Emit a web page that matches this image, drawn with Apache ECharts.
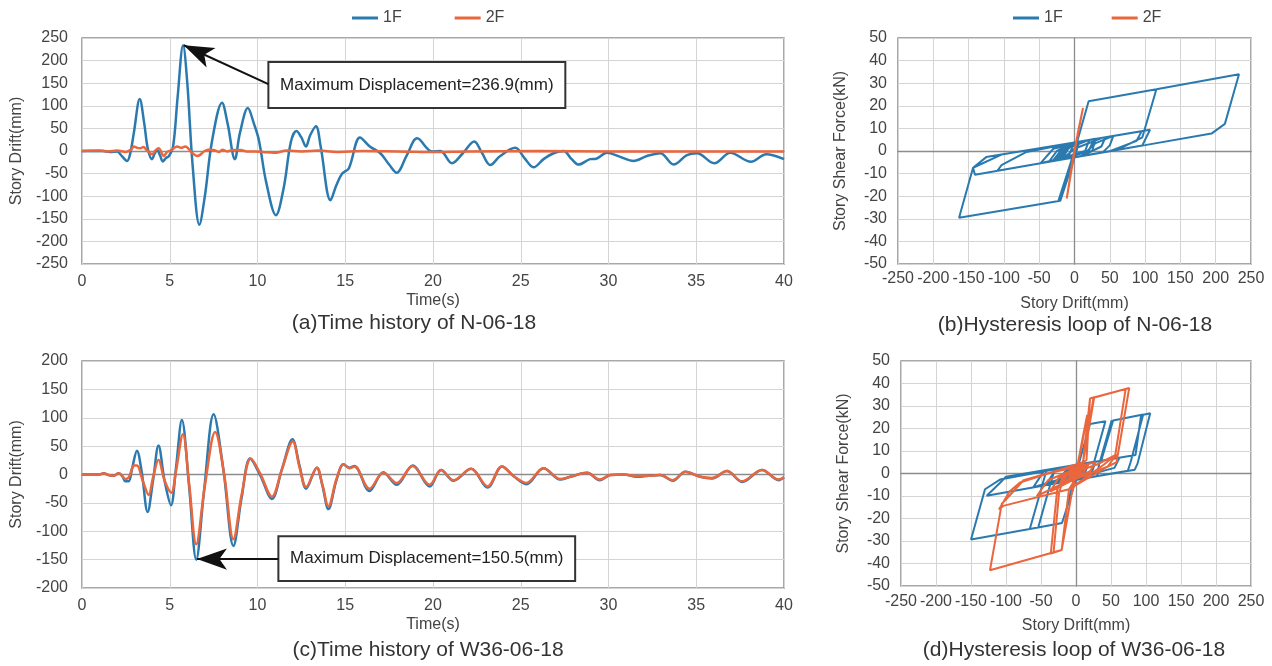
<!DOCTYPE html>
<html>
<head>
<meta charset="utf-8">
<title>Story drift time history and hysteresis loops</title>
<script src="https://cdn.jsdelivr.net/npm/echarts@6/dist/echarts.min.js"></script>
<style>
html, body { margin: 0; padding: 0; background: #fff; }
#chart { width: 1272px; height: 666px; }
</style>
</head>
<body>
<div id="chart"></div>
<script>
// values ([time s, drift mm] and [drift mm, shear kN])
const floors = ['1F', '2F'];

const histN1F = [[0,0],[1.2,0],[1.6,-2],[2.0,-1],[2.2,-8],[2.57,-22],[2.75,-5],[2.95,39],[3.29,115],[3.55,60],[3.75,5],[3.99,-18],[4.15,-5],[4.28,2],[4.45,-10],[4.6,-23],[4.8,-15],[4.94,-12],[5.19,10],[5.45,120],[5.76,234],[6.0,150],[6.3,-30],[6.69,-163],[7.0,-100],[7.4,20],[7.98,107],[8.3,60],[8.71,-18],[9.0,40],[9.45,95],[9.8,60],[10.08,24],[10.5,-70],[11.05,-142],[11.5,-80],[11.9,20],[12.22,44],[12.5,30],[12.76,10],[13.0,35],[13.33,55],[13.6,10],[14.16,-109],[14.5,-75],[14.83,-50],[15.21,-38],[15.84,30],[16.4,10],[17.0,-5],[17.5,-30],[17.93,-48],[18.5,-10],[19.1,28],[19.94,-1],[20.42,0],[21.08,-27],[21.7,-5],[22.35,21],[22.8,-5],[23.26,-31],[23.83,-11],[24.69,7],[25.2,-15],[25.73,-36],[26.3,-18],[26.87,-5],[27.44,0],[27.9,-18],[28.3,-30],[28.96,-18],[29.3,-17],[29.91,-4],[30.67,-13],[31.43,-22],[32.19,-11],[32.95,-5],[33.71,-30],[34.47,-9],[35.04,-5],[36.03,-27],[36.94,-4],[38.12,-24],[38.99,-7],[40,-18]];
const histN2F = [[0,0],[1.0,1],[1.5,-1],[2.0,1],[2.5,-2],[2.8,3],[2.95,10],[3.15,7],[3.33,6],[3.5,9],[3.7,1],[3.99,-7],[4.2,2],[4.37,6],[4.66,-11],[4.85,-2],[5.04,1],[5.42,10],[5.65,7],[5.89,10],[6.27,-4],[6.56,-11],[6.75,-8],[6.94,-1],[7.2,3],[7.5,2],[7.8,-2],[8.0,3],[8.27,-1],[8.6,2],[9.03,2],[9.4,-1],[9.79,-1],[10.3,-2],[10.93,-4],[11.69,1],[12.5,-1],[13.5,1],[14.5,-2],[16,0],[18,-1],[20,-2],[22,-1],[26,0],[30,-1],[35,-1],[40,-1]];
const histW1F = [[0,0],[1.0,0],[1.23,2],[1.5,-1],[1.8,-2],[2.09,2],[2.3,-3],[2.47,-12],[2.66,-12],[2.85,10],[3.13,42],[3.4,5],[3.74,-66],[4.05,-10],[4.36,51],[4.7,-10],[5.07,-54],[5.35,10],[5.69,96],[6.1,-20],[6.51,-150],[6.95,-30],[7.5,106],[8.05,10],[8.63,-126],[9.1,-40],[9.58,28],[10.15,-1],[10.82,-43],[11.4,10],[11.99,62],[12.4,15],[12.77,-25],[13.38,12],[13.7,-20],[14.04,-61],[14.5,-10],[14.9,18],[15.24,12],[15.52,15],[16.38,-29],[17.17,4],[17.93,-18],[18.84,16],[19.81,-21],[20.46,8],[21.17,-11],[22.17,10],[23.11,-23],[23.93,14],[24.6,-3],[25.32,-17],[26.3,11],[27.25,-9],[27.82,-4],[28.78,3],[29.5,-10],[30.1,-1],[30.86,0],[31.62,-4],[32.3,-2],[32.95,-1],[33.67,-11],[34.38,5],[35.23,-4],[35.9,-7],[36.75,6],[37.61,-13],[38.75,8],[39.7,-10],[40,-5]];
const histW2F = [[0,0],[1.0,0],[1.23,2],[1.5,-1],[1.8,-2],[2.09,2],[2.3,-3],[2.47,-8],[2.66,-5],[2.85,10],[2.94,16],[3.13,16],[3.45,-10],[3.8,-36],[4.05,-5],[4.36,26],[4.7,-10],[5.09,-32],[5.35,5],[5.75,71],[6.1,-15],[6.51,-123],[7.0,-20],[7.59,75],[8.1,0],[8.63,-114],[9.1,-35],[9.62,28],[10.15,2],[10.82,-39],[11.4,10],[12.01,58],[12.4,12],[12.77,-22],[13.38,12],[13.7,-18],[14.04,-56],[14.5,-8],[14.9,18],[15.24,11],[15.52,14],[16.38,-25],[17.17,3],[17.93,-15],[18.84,15],[19.81,-18],[20.46,8],[21.17,-10],[22.17,10],[23.11,-21],[23.93,14],[24.6,-3],[25.32,-15],[26.3,11],[27.25,-8],[27.82,-4],[28.78,3],[29.5,-9],[30.1,-1],[30.86,0],[31.62,-3],[32.3,-2],[32.95,-1],[33.67,-10],[34.38,5],[35.23,-4],[35.9,-6],[36.75,6],[37.61,-12],[38.75,8],[39.7,-9],[40,-5]];

const loopN1F = [[0,0],[-4,-4],[3,3],[-20,-22],[0,0],[20,22],[116,27.3],[96,6],[60,0.4],[20,-1.7],[0,-2.8],[-18,-20],[0,0],[2,2],[-23,-22.3],[0,0],[20,22],[116,27.3],[233,34],[213,12],[194,7.7],[100,2.6],[50,-0.1],[0,-2.8],[-20,-22],[-163.5,-29.5],[-143.7,-7.4],[-125,-2.7],[0,3.8],[50,6.4],[107,9.4],[100,5],[96,2.4],[50,-0.1],[-18,-3.8],[0,1],[40,5.9],[95,8.7],[88,4.5],[50,-0.1],[-50,-5.5],[-141,-10.5],[-143.7,-7.4],[-103.5,-1.6],[44,6.1],[38,2],[10,-2.3],[30,3.5],[55,6.7],[50,2.5],[40,-0.6],[-50,-5.5],[-109,-8.7],[-103.5,-6.3],[-68,-0.4],[0,3.8],[30,5.4],[25,0],[-48,-5.4],[-30,1],[28,5.3],[20,0],[-27,-4.3],[-15,0.5],[21,4.9],[15,0],[-31,-4.5],[-20,0],[7,4.2],[0,-2.8],[-36,-4.7],[-25,0],[0,3.8],[-10,-3.3],[-30,-4.4],[-15,-1],[-4,3.6],[-22,-4],[-11,0],[-5,3.5],[-30,-4.4],[-5,2],[-27,-4.3],[-4,3],[-24,-4.1],[-7,2],[-18,-3.8]];
const loopN2F = [[0,0],[1,2],[-1,-2],[6,10],[4,7],[5,8],[-1,-2],[-7,-12],[1,2],[3,5],[-11,-21],[-2,-3],[6,10],[12,19],[4,6],[6,10],[-2,-4],[1,2],[0,0]];
const loopW1F = [[0,0],[-2,-2],[2,2],[-12,-13],[0,0],[20,22],[42,23.2],[24,3],[22,-1.6],[0,-2.8],[-20,-22],[-66,-24.7],[-48,-5],[-42,1.6],[10,4.3],[36,5.7],[51,23.7],[33,4],[30,-1.2],[0,-2.8],[-20,-22],[-54,-24],[-36,-4],[-30,2.2],[20,4.8],[36,5.7],[53,23.6],[96,26.2],[78,5],[74,1.2],[0,-2.8],[-20,-22],[-66,-24.7],[-150,-29.3],[-130,-7],[-108.6,-2.7],[40,5.9],[85,8.2],[93,25.9],[106,26.8],[88,4.5],[84,1.7],[0,-2.8],[-127.6,-9.9],[-108,-4],[-100,-1.4],[28,5.3],[22,0],[-43,-5.1],[-28,2.3],[62,7.0],[55,2.5],[-25,-4.1],[-10,2.5],[12,4.4],[5,0],[-61,-6.1],[-45,1.5],[18,4.7],[10,-2.3],[-29,-4.4],[-15,1],[4,4],[-18,-3.8],[-5,2.5],[16,4.6],[8,0],[-21,-4],[-10,1.5],[8,4.2],[0,-2],[-11,-3.4],[0,2],[10,4.3],[2,-1],[-23,-4],[-8,2],[14,4.5],[5,-1],[-17,-3.7],[0,2],[11,4.4],[3,-1],[-9,-3.3],[0,2],[3,3.9],[-10,-3.3],[0,0]];
const loopW2F = [[0,0],[-2,-3],[2,3],[-5,-8],[-3,-5],[10,16.6],[16,26],[8,12],[-5,-7],[-20.5,-34],[-36,-35.6],[-27,-7.5],[-18,-1],[10,5],[20,33.3],[26,33.9],[14,12],[8,2],[-10,-7],[-20.5,-34],[-32,-35],[-24,-8],[-15,-1],[15,6],[20,33.3],[71,37.6],[56,8.1],[40,4],[-10,-7],[-20.5,-34],[-122.9,-43],[-106,-13.4],[-101,-11.9],[-75,-3],[-30,1],[10,5],[25,33.7],[76,38],[58,5.1],[45,3],[-10,-7],[-104,-14.4],[-110,-16],[-95,-8],[-80,-4],[-40,0],[28,5],[20,1],[-37,-8],[-25,-2],[30,4],[58,8.5],[45,3],[-22,-5],[-10,1],[12,4],[5,-1],[-56,-10],[-40,-3],[18,4.5],[10,0],[-25,-6],[-10,0],[3,3],[-15,-4.5],[-5,1],[15,4],[5,0],[-18,-5],[8,3],[-10,-3.5],[10,3.5],[-21,-5],[14,4],[-15,-4],[11,3.5],[-8,-3],[3,2],[-9,-3],[0,0]];

const noteN = 'Maximum Displacement=236.9(mm)';
const noteW = 'Maximum Displacement=150.5(mm)';
const captions = ['(a)Time history of N-06-18', '(b)Hysteresis loop of N-06-18', '(c)Time history of W36-06-18', '(d)Hysteresis loop of W36-06-18'];

const BLUE = '#2a7ab0';
const ORANGE = '#ea663d';
const FONT = 'Liberation Sans';

const chart = echarts.init(document.getElementById('chart'));

// main axis with labels (border drawn by grid)
function mainAxis(grid, min, max, step, name, gap, margin, pos) {
    return {
        type: 'value', gridIndex: grid, min: min, max: max, interval: step, position: pos,
        name: name, nameLocation: 'middle', nameGap: gap,
        nameTextStyle: {fontSize: 16, color: '#444', fontFamily: FONT},
        axisLine: {show: false, onZero: false},
        axisTick: {show: false},
        axisLabel: {fontSize: 16, color: '#444', margin: margin, fontFamily: FONT},
        splitLine: {show: true, lineStyle: {color: '#d4d4d4', width: 1}}
    };
}
// darker line through zero
function zeroAxis(grid, min, max, pos) {
    return {
        type: 'value', gridIndex: grid, min: min, max: max, position: pos,
        axisLine: {show: true, onZero: true, lineStyle: {color: '#8c8c8c', width: 1.3}},
        axisTick: {show: false}, axisLabel: {show: false}, splitLine: {show: false}
    };
}

function lineSeries(name, xi, yi, data, color, smooth, width) {
    return {
        name: name, type: 'line', xAxisIndex: xi, yAxisIndex: yi, data: data,
        symbol: 'none', smooth: smooth, lineStyle: {color: color, width: width},
        itemStyle: {color: color}, emphasis: {disabled: true}
    };
}

function note(text, box, arrow) {
    return {
        markArea: {
            silent: true,
            itemStyle: {color: '#fff', borderColor: '#333', borderWidth: 2},
            label: {show: true, position: 'inside', color: '#222', fontSize: 17, fontFamily: FONT, formatter: text},
            data: [[{coord: box[0]}, {coord: box[1]}]]
        },
        markLine: {
            silent: true, symbol: ['none', 'arrow'], symbolSize: [16, 30],
            lineStyle: {color: '#111', width: 2, type: 'solid'}, label: {show: false},
            data: [[{coord: arrow[0]}, {coord: arrow[1]}]]
        }
    };
}

const sA1 = lineSeries('1F', 0, 0, histN1F, BLUE, 0.35, 2.5);
Object.assign(sA1, note(noteN, [[10.62, 197], [27.54, 95.3]], [[10.62, 148], [5.8, 234]]));
const sC1 = lineSeries('1F', 2, 2, histW1F, BLUE, 0.35, 2.5);
Object.assign(sC1, note(noteW, [[11.19, -108.9], [28.1, -187.7]], [[11.19, -149], [6.55, -149]]));

function legendAt(left, gap) {
    return {
        left: left, top: 5, itemGap: gap, itemWidth: 26, itemHeight: 3, icon: 'rect', data: floors,
        textStyle: {fontSize: 16, color: '#444'}
    };
}

function caption(text, x, y) {
    return {text: text, left: x, top: y, textAlign: 'center', padding: 0,
            textStyle: {fontSize: 21, fontWeight: 'normal', color: '#333'}};
}

const option = {
    animation: false,
    backgroundColor: '#fff',
    textStyle: {fontFamily: FONT},
    legend: [legendAt(347, 53), legendAt(1008, 49)],
    title: [
        caption(captions[0], 414, 313),
        caption(captions[1], 1075, 315),
        caption(captions[2], 428, 640),
        caption(captions[3], 1074, 640)
    ],
    grid: [
        {left: 82, top: 38, width: 702, height: 226, show: true, borderColor: '#8c8c8c', borderWidth: 1.5},
        {left: 898, top: 38, width: 353, height: 226, show: true, borderColor: '#8c8c8c', borderWidth: 1.5},
        {left: 82, top: 361, width: 702, height: 227, show: true, borderColor: '#8c8c8c', borderWidth: 1.5},
        {left: 901, top: 361, width: 350, height: 225, show: true, borderColor: '#8c8c8c', borderWidth: 1.5}
    ],
    xAxis: [
        mainAxis(0, 0, 40, 5, 'Time(s)', 29, 10, 'bottom'),
        mainAxis(1, -250, 250, 50, 'Story Drift(mm)', 32, 7, 'bottom'),
        mainAxis(2, 0, 40, 5, 'Time(s)', 29, 10, 'bottom'),
        mainAxis(3, -250, 250, 50, 'Story Drift(mm)', 32, 8, 'bottom'),
        zeroAxis(0, 0, 40, 'top'),
        zeroAxis(1, -250, 250, 'top'),
        zeroAxis(2, 0, 40, 'top'),
        zeroAxis(3, -250, 250, 'top')
    ],
    yAxis: [
        mainAxis(0, -250, 250, 50, 'Story Drift(mm)', 56, 14, 'left'),
        mainAxis(1, -50, 50, 10, 'Story Shear Force(kN)', 49, 11, 'left'),
        mainAxis(2, -200, 200, 50, 'Story Drift(mm)', 56, 14, 'left'),
        mainAxis(3, -50, 50, 10, 'Story Shear Force(kN)', 49, 11, 'left'),
        zeroAxis(1, -50, 50, 'right'),
        zeroAxis(3, -50, 50, 'right')
    ],
    series: [
        sA1,
        lineSeries('2F', 0, 0, histN2F, ORANGE, 0.35, 2.5),
        lineSeries('1F', 1, 1, loopN1F, BLUE, false, 2),
        lineSeries('2F', 1, 1, loopN2F, ORANGE, false, 2),
        sC1,
        lineSeries('2F', 2, 2, histW2F, ORANGE, 0.35, 2.5),
        lineSeries('1F', 3, 3, loopW1F, BLUE, false, 2),
        lineSeries('2F', 3, 3, loopW2F, ORANGE, false, 2)
    ]
};

chart.setOption(option);
window.addEventListener('resize', () => chart.resize());
</script>
</body>
</html>
